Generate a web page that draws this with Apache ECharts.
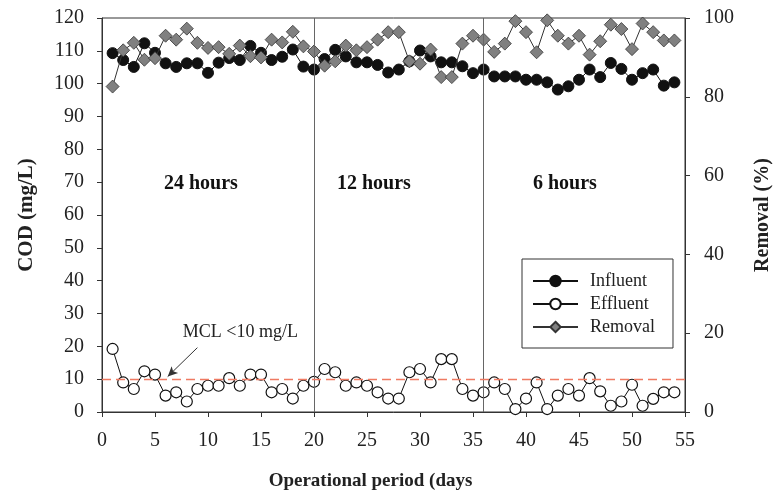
<!DOCTYPE html>
<html>
<head>
<meta charset="utf-8">
<script src="https://cdn.jsdelivr.net/npm/echarts@6/dist/echarts.min.js"></script>
<style>
html,body{margin:0;padding:0;background:#fff;}
#main{width:776px;height:492px;}
</style>
</head>
<body>
<div id="main"></div>
<script>
// COD influent / effluent and removal over the operational period
var days = [1,2,3,4,5,6,7,8,9,10,11,12,13,14,15,16,17,18,19,20,
	21,22,23,24,25,26,27,28,29,30,31,32,33,34,35,36,37,38,39,40,
	41,42,43,44,45,46,47,48,49,50,51,52,53,54];

var influent = [109.3,107.2,105.1,112.3,109.4,106.2,105.1,106.2,106.2,103.3,
	106.4,107.8,107.2,111.5,109.4,107.2,108.2,110.4,105.2,104.3,
	107.5,110.3,108.3,106.5,106.5,105.7,103.4,104.3,106.8,110.1,
	108.3,106.5,106.5,105.3,103.2,104.3,102.2,102.2,102.2,101.2,
	101.2,100.4,98.2,99.2,101.2,104.3,102.0,106.3,104.5,101.2,
	103.2,104.3,99.4,100.4];

var effluent = [19.2,9.0,7.0,12.4,11.4,5.0,6.0,3.2,7.0,8.0,
	8.0,10.3,8.0,11.4,11.4,6.0,7.0,4.1,8.0,9.2,
	13.1,12.1,8.0,9.0,8.0,6.0,4.1,4.1,12.1,13.1,
	9.0,16.1,16.1,7.0,5.0,6.0,9.0,7.0,0.9,4.1,
	9.0,0.9,5.0,7.0,5.0,10.3,6.3,1.9,3.2,8.3,
	1.9,4.0,6.0,6.0];

var removal = [82.6,91.8,93.7,89.4,89.8,95.5,94.5,97.3,93.7,92.4,
	92.6,90.9,93.0,90.3,90.0,94.5,93.8,96.5,92.8,91.5,
	87.9,89.0,93.0,91.8,92.6,94.5,96.4,96.4,89.0,88.4,
	92.0,85.0,85.0,93.5,95.5,94.5,91.4,93.5,99.2,96.4,
	91.3,99.4,95.5,93.5,95.5,90.7,94.1,98.3,97.2,92.1,
	98.6,96.4,94.3,94.3];

var xTicks = [0,55,5];
var codTicks = [0,120,10];
var remTicks = [0,100,20];
var mcl = 10;
var phaseBreaks = [20,36];
var phaseNames = ['24 hours','12 hours','6 hours'];

var serif = 'Liberation Serif';

function pairs(arr){
	var out = [];
	for(var i=0;i<days.length;i++){
		out.push([days[i], arr[i]]);
	}
	return out;
}

var chart = echarts.init(document.getElementById('main'));

var axisCommon = {
	axisLine: {show: true, lineStyle: {color: '#333', width: 1}},
	axisTick: {show: true, inside: false, length: 5, lineStyle: {color: '#333'}},
	splitLine: {show: false},
	axisLabel: {color: '#222', fontFamily: serif, fontSize: 20},
	nameTextStyle: {color: '#222', fontFamily: serif, fontSize: 20, fontWeight: 'bold'}
};

option = {
	backgroundColor: '#fff',
	animation: false,
	grid: {
		left: 102, right: 91, top: 18, bottom: 80,
		containLabel: false,
		outerBoundsMode: 'none',
		show: true, borderColor: '#333', borderWidth: 1
	},
	legend: {
		data: ['Influent','Effluent','Removal'],
		orient: 'vertical',
		left: 522, top: 259,
		borderColor: '#333', borderWidth: 1,
		padding: [13, 18, 12, 10],
		itemWidth: 45, itemHeight: 13, itemGap: 5,
		textStyle: {fontFamily: serif, fontSize: 18, color: '#222', padding: [0,0,0,7]}
	},
	xAxis: echarts.util.merge({
		type: 'value',
		min: xTicks[0], max: xTicks[1], interval: xTicks[2],
		name: 'Operational period (days',
		nameLocation: 'middle',
		nameGap: 60,
		nameTextStyle: {fontSize: 19, padding: [0, 46, 0, 0]},
		axisLabel: {margin: 19}
	}, axisCommon, false),
	yAxis: [
		echarts.util.merge({
			type: 'value',
			min: codTicks[0], max: codTicks[1], interval: codTicks[2],
			name: 'COD (mg/L)',
			nameLocation: 'middle',
			nameRotate: 90,
			nameGap: 65,
			nameTextStyle: {fontSize: 21},
			axisLabel: {margin: 18}
		}, axisCommon, false),
		echarts.util.merge({
			type: 'value',
			position: 'right',
			min: remTicks[0], max: remTicks[1], interval: remTicks[2],
			name: 'Removal (%)',
			nameLocation: 'middle',
			nameRotate: 90,
			nameGap: 68,
			axisLabel: {margin: 19}
		}, axisCommon, false)
	],
	graphic: [
		{type: 'text', left: 164, top: 174, style: {text: phaseNames[0], font: 'bold 20px "Liberation Serif"', fill: '#111'}},
		{type: 'text', left: 337, top: 174, style: {text: phaseNames[1], font: 'bold 20px "Liberation Serif"', fill: '#111'}},
		{type: 'text', left: 533, top: 174, style: {text: phaseNames[2], font: 'bold 20px "Liberation Serif"', fill: '#111'}},
		{type: 'text', right: 478, top: 323, style: {text: 'MCL <10 mg/L', font: '18px "Liberation Serif"', fill: '#222'}}
	],
	series: [
		{
			name: 'Influent',
			type: 'line',
			yAxisIndex: 0,
			data: pairs(influent),
			symbol: 'circle',
			symbolSize: 11,
			lineStyle: {color: '#111', width: 1},
			itemStyle: {color: '#111', borderColor: '#111', borderWidth: 1},
			markLine: {
				silent: true,
				symbol: 'none',
				label: {show: false},
				lineStyle: {color: '#666', width: 1, type: 'solid'},
				data: [
					{xAxis: phaseBreaks[0]},
					{xAxis: phaseBreaks[1]},
					[
						{coord: [9.0, 19.6], symbol: 'none', lineStyle: {color: '#333', width: 1, type: 'solid'}},
						{coord: [6.2, 10.8], symbol: 'arrow', symbolSize: [7, 10]}
					]
				]
			},
			z: 3
		},
		{
			name: 'Effluent',
			type: 'line',
			yAxisIndex: 0,
			data: pairs(effluent),
			symbol: 'circle',
			symbolSize: 11,
			lineStyle: {color: '#111', width: 1},
			itemStyle: {color: '#fff', borderColor: '#111', borderWidth: 1.2},
			markLine: {
				silent: true,
				symbol: 'none',
				label: {show: false},
				emphasis: {disabled: true},
				lineStyle: {color: '#ef7a62', width: 1.3, type: [9, 5], opacity: 1},
				data: [{yAxis: mcl, lineStyle: {color: '#ef7a62'}}]
			},
			z: 3
		},
		{
			name: 'Removal',
			type: 'line',
			yAxisIndex: 1,
			data: pairs(removal),
			symbol: 'diamond',
			symbolSize: 13,
			lineStyle: {color: '#333', width: 1},
			itemStyle: {color: '#808080', borderColor: '#333', borderWidth: 0.8},
			z: 4
		}
	]
};

chart.setOption(option);
</script>
</body>
</html>
